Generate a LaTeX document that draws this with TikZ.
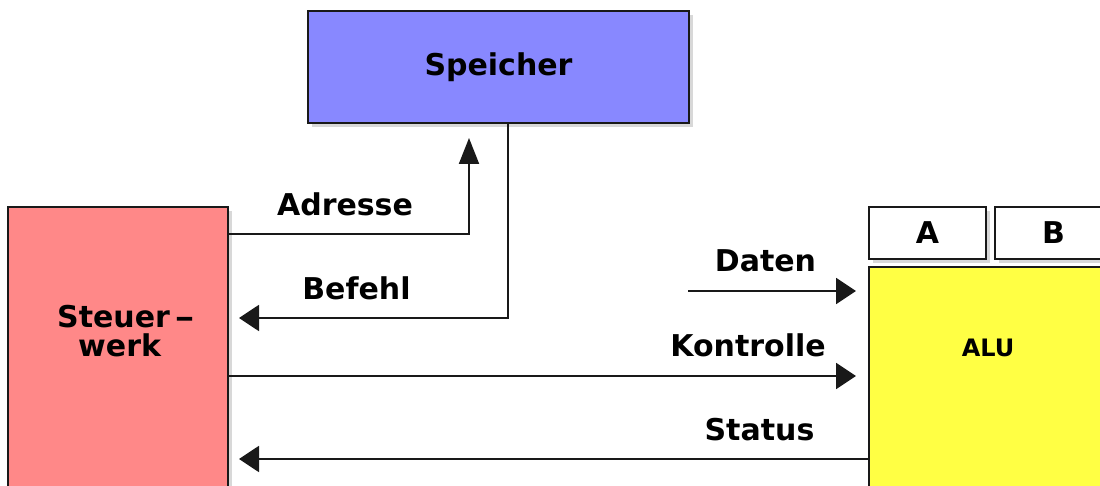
\documentclass[tikz,border=0pt]{standalone}
\usepackage{fontspec}
\setmainfont{DejaVu Sans}
\usetikzlibrary{arrows.meta,positioning,shadows}
\tikzset{>={Triangle[length=20pt,width=26pt]}}
\definecolor{memblue}{HTML}{8888FF}
\definecolor{ctrlred}{HTML}{FF8888}
\definecolor{aluyellow}{HTML}{FFFF44}
\tikzset{
  block/.style={draw=black!90,line width=2pt,inner sep=0pt,
    drop shadow={shadow xshift=4pt,shadow yshift=-4pt,opacity=.3}},
  lbl/.style={font=\fontsize{30}{31}\selectfont\bfseries,inner sep=0pt},
  bus/.style={line width=2pt,draw=black!90},
  upbus/.style={bus,-{Triangle[length=26pt,width=20pt]}},
}

\begin{document}
\begin{tikzpicture}[x=1pt,y=-1pt]
  \clip (0,0) rectangle (1100,486);
  \fill[white] (0,0) rectangle (1100,486);
  % boxes
  \node[block,lbl,fill=memblue,minimum width=381pt,minimum height=112pt] (speicher) at (498.5,67) {Speicher};
  \node[block,fill=ctrlred,minimum width=220pt,minimum height=323pt] (steuer) at (118,368.5) {};
  \node[block,fill=aluyellow,minimum width=238pt,minimum height=263pt] (alu) at (988,398.5) {};
  \node[block,lbl,fill=white,minimum width=117pt,minimum height=52pt] (rega) at (927.5,233) {A};
  \node[block,lbl,fill=white,minimum width=117pt,minimum height=52pt,right=7pt of rega] (regb) {B};
  \node[lbl,anchor=base west] (steuertxt) at (57,327) {Steuer\,\scalebox{1.3}[1]{–}};
  \node[lbl,anchor=base west] (werktxt) at (78,356) {werk};
  \node[lbl,font=\fontsize{24}{25}\selectfont\bfseries,anchor=base] (alutxt) at (988,356) {ALU};
  % buses
  \coordinate (datenin) at (688,291);
  \draw[upbus,shorten >=14pt] (steuer.east |- 0,234) -| (speicher.south -| 469,0);
  \draw[bus,->,shorten >=10pt] (speicher.south -| 508,0) |- (steuer.east |- 0,318);
  \draw[bus,->,shorten >=12pt] (datenin) -- (alu.west |- datenin);
  \draw[bus,->,shorten >=12pt] (steuer.east |- 0,376) -- (alu.west |- 0,376);
  \draw[bus,->,shorten >=10pt] (alu.west |- 0,459) -- (steuer.east |- 0,459);
  % labels
  \node[lbl,anchor=base] (adresse) at (345,216) {Adresse};
  \node[lbl,anchor=base] (befehl) at (356.5,300) {Befehl};
  \node[lbl,anchor=base] (daten) at (765.5,272) {Daten};
  \node[lbl,anchor=base] (kontrolle) at (748,356) {Kontrolle};
  \node[lbl,anchor=base] (status) at (759.5,440) {Status};
\end{tikzpicture}
\end{document}
